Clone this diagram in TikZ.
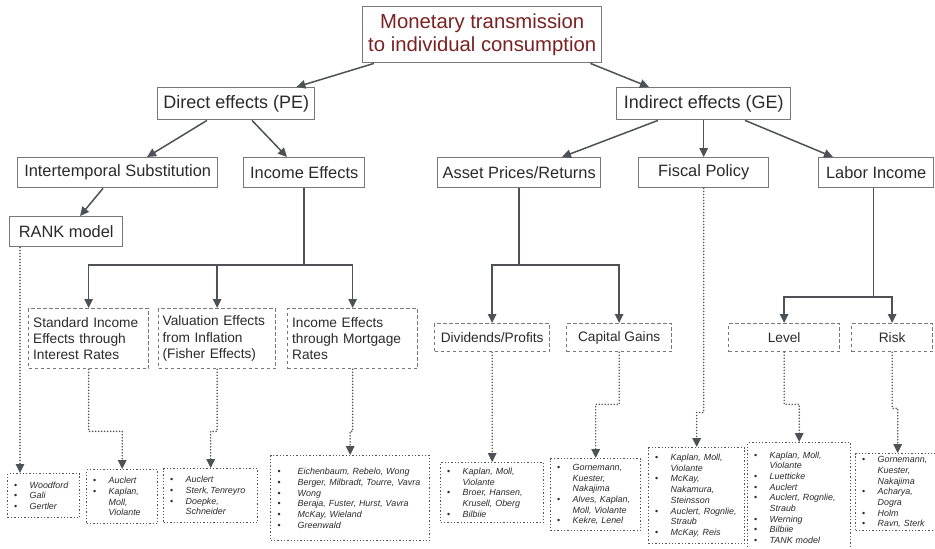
\documentclass[tikz,border=0pt]{standalone}
\usepackage{fontspec}
\setmainfont{Liberation Sans}
\usetikzlibrary{arrows.meta}
\definecolor{boxgray}{HTML}{787878}
\definecolor{refgray}{HTML}{555555}
\definecolor{arrgray}{HTML}{4E5257}
\definecolor{titlered}{HTML}{7A2222}
\definecolor{txt}{HTML}{2A2A2A}
\newcommand\bu[1][15.5pt]{\makebox[#1][l]{\upshape\textbullet}}
\newcommand\ct[1][15.5pt]{\hspace*{#1}}
\begin{document}
\begin{tikzpicture}[x=1pt,y=-1pt,
  base/.style={anchor=north west, inner sep=0pt, text=txt},
  solidbox/.style={base, draw=boxgray, line width=1.4pt, font=\fontsize{16.4}{19}\selectfont},
  dashbox/.style={base, draw=boxgray, line width=1.3pt, dash pattern=on 3.5pt off 2.5pt, font=\fontsize{13.7}{16.2}\selectfont},
  refbox/.style={base, draw=refgray, line width=1.4pt, dash pattern=on 1.3pt off 2pt, font=\fontsize{8.9}{10.7}\selectfont\itshape, align=left, inner xsep=6.5pt},
  tip/.style={-{Triangle[length=9pt,width=8.5pt]}},
  arr/.style={draw=arrgray, line width=1.5pt, tip},
  dotarr/.style={draw=arrgray, line width=1.7pt, line cap=round, dash pattern=on 0pt off 3pt, tip},
]
\useasboundingbox (0,0) rectangle (935,549);
\clip (0,0) rectangle (935,549);
\fill[white] (0,0) rectangle (935,549);

% level 0
\node[solidbox, minimum width=239, minimum height=56, align=center, text=titlered,
  font=\fontsize{20.3}{23.5}\selectfont] (top) at (362,6) {Monetary transmission\\to individual consumption};
% level 1
\node[solidbox, minimum width=157, minimum height=32, font=\fontsize{18}{21}\selectfont] (pe) at (157,87) {Direct effects (PE)};
\node[solidbox, minimum width=174, minimum height=32, font=\fontsize{18}{21}\selectfont] (ge) at (616,87) {Indirect effects (GE)};
% level 2
\node[solidbox, minimum width=200, minimum height=30] (its) at (17,157) {Intertemporal Substitution};
\node[solidbox, minimum width=121, minimum height=30] (inc) at (243,157) {Income Effects};
\node[solidbox, minimum width=163, minimum height=30] (asset) at (437,157) {Asset Prices/Returns};
\node[solidbox, minimum width=130, minimum height=30] (fisc) at (638,157) {Fiscal Policy};
\node[solidbox, minimum width=115, minimum height=30] (labor) at (818,157) {Labor Income};
\node[solidbox, minimum width=113, minimum height=30] (rank) at (9,216) {RANK model};
% level 3 dashed
\node[dashbox, text width=111, minimum height=60, align=left, inner xsep=4.5pt] (std) at (28,308) {Standard Income\\Effects through\\Interest Rates};
\node[dashbox, text width=109, minimum height=60, align=left, inner xsep=4pt] (val) at (158,308) {Valuation Effects\\from Inflation\\(Fisher Effects)};
\node[dashbox, text width=121, minimum height=60, align=left, inner xsep=4.5pt] (mort) at (287,308) {Income Effects\\through Mortgage\\Rates};
\node[dashbox, minimum width=115, minimum height=28] (div) at (434,323) {Dividends/Profits};
\node[dashbox, minimum width=105, minimum height=28] (cap) at (566,323) {Capital Gains};
\node[dashbox, minimum width=111, minimum height=28] (level) at (728,323) {Level};
\node[dashbox, minimum width=81, minimum height=28] (risk) at (851,323) {Risk};
% reference boxes
\node[refbox, text width=59, minimum height=44] (refA) at (7,473) {\bu Woodford\\\bu Gali\\\bu Gertler};
\node[refbox, text width=58, minimum height=54] (refB) at (86,469) {\bu Auclert\\\bu Kaplan,\\\ct Moll,\\\ct Violante};
\node[refbox, text width=81, minimum height=54] (refC) at (163,468) {\bu Auclert\\\bu Sterk,\,Tenreyro\\\bu Doepke,\\\ct Schneider};
\node[refbox, text width=145, minimum height=85, inner xsep=7pt] (refD) at (270,455) {\bu[20pt]Eichenbaum, Rebelo, Wong\\\bu[20pt]Berger, Milbradt, Tourre, Vavra\\\bu[20pt]Wong\\\bu[20pt]Beraja, Fuster, Hurst, Vavra\\\bu[20pt]McKay, Wieland\\\bu[20pt]Greenwald};
\node[refbox, text width=90, minimum height=60] (refE) at (440,462) {\bu Kaplan, Moll,\\\ct Violante\\\bu Broer, Hansen,\\\ct Krusell, Oberg\\\bu Bilbiie};
\node[refbox, text width=77, minimum height=72] (refF) at (550,458) {\bu Gornemann,\\\ct Kuester,\\\ct Nakajima\\\bu Alves, Kaplan,\\\ct Moll, Violante\\\bu Kekre, Lenel};
\node[refbox, text width=83, minimum height=96] (refG) at (648,447) {\bu Kaplan, Moll,\\\ct Violante\\\bu McKay,\\\ct Nakamura,\\\ct Steinsson\\\bu Auclert, Rognlie,\\\ct Straub\\\bu McKay, Reis};
\node[refbox, text width=90, minimum height=110] (refH) at (747,442) {\bu Kaplan, Moll,\\\ct Violante\\\bu Luetticke\\\bu Auclert\\\bu Auclert, Rognlie,\\\ct Straub\\\bu Werning\\\bu Bilbiie\\\bu TANK model};
\node[refbox, text width=71, minimum height=77] (refI) at (855,453) {\bu Gornemann,\\\ct Kuester,\\\ct Nakajima\\\bu Acharya,\\\ct Dogra\\\bu Holm\\\bu Ravn, Sterk};

% solid arrows
\draw[arr] ([xshift=12pt]top.south west) -- ([xshift=-19pt]pe.north east);
\draw[arr] ([xshift=-12pt]top.south east) -- ([xshift=33pt]ge.north west);
\draw[arr] ([xshift=50pt]pe.south west) -- ([xshift=130pt]its.north west);
\draw[arr] ([xshift=95pt]pe.south west) -- ([xshift=44pt]inc.north west);
\draw[arr] ([xshift=86pt]its.south west) -- ([xshift=71pt]rank.north west);
\draw[arr] ([xshift=42pt]ge.south west) -- ([xshift=125pt]asset.north west);
\draw[arr] (ge.south) -- (fisc.north);
\draw[arr] ([xshift=129pt]ge.south west) -- ([xshift=15pt]labor.north west);

% income effects tree
\draw[arr] (inc.south) |- ([yshift=43pt]std.north) -- (std.north);
\draw[arr] ([yshift=43pt]val.north) -- (val.north);
\draw[arr] ([yshift=43pt]std.north) -| (mort.north);
% asset tree
\draw[arr] (asset.south) |- ([yshift=58pt]div.north) -- (div.north);
\draw[arr] ([yshift=58pt]div.north) -| (cap.north);
% labor tree
\draw[arr] ([xshift=-2.5pt]labor.south) |- ([yshift=26pt]level.north) -- (level.north);
\draw[arr] ([yshift=26pt]level.north) -| (risk.north);

% dotted connectors
\draw[dotarr] ([xshift=11pt]rank.south west) -- ([xshift=13pt]refA.north west);
\draw[dotarr] (std.south) -- ++(0,62) -| (refB.north);
\draw[dotarr] (val.south) -- ++(0,62) -| (refC.north);
\draw[dotarr] (mort.south) -- ++(0,62) -| (refD.north);
\draw[dotarr] (div.south) -- (refE.north);
\draw[dotarr] (cap.south) -- ++(0,52) -| (refF.north);
\draw[dotarr] (fisc.south) -- ++(0,224) -| (refG.north);
\draw[dotarr] (level.south) -- ++(0,52) -| (refH.north);
\draw[dotarr] (risk.south) -- ++(0,56) -| (refI.north);
\end{tikzpicture}
\end{document}
